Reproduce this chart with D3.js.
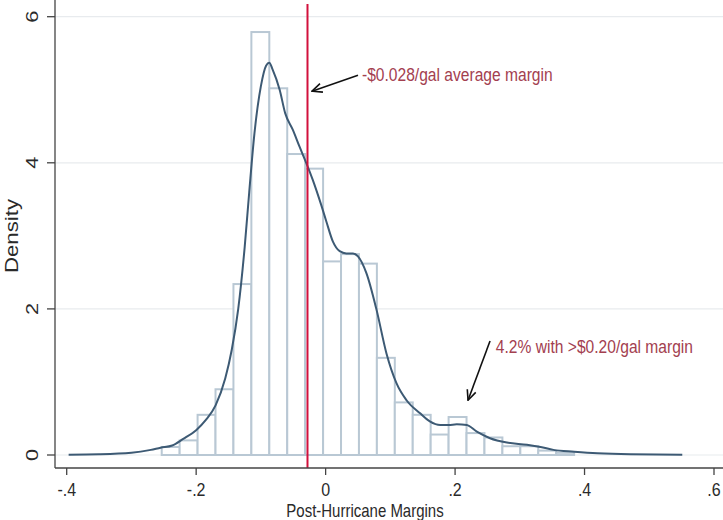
<!DOCTYPE html>
<html>
<head>
<meta charset="utf-8">
<script src="https://cdn.jsdelivr.net/npm/d3@7"></script>
<style>
  html, body { margin: 0; padding: 0; background: #fff; }
  svg { display: block; font-family: Arial, "Liberation Sans", sans-serif; }
</style>
</head>
<body>
<svg id="chart" width="723" height="520"></svg>
<script>
// ---- data ----
const binStart = -0.2532;
const binWidth = 0.0277;
const binHeights = [0.11, 0.20, 0.55, 0.90, 2.34, 5.79, 5.02, 4.12, 3.92, 2.65, 2.75, 2.62,
                    1.33, 0.72, 0.55, 0.28, 0.52, 0.30, 0.24, 0.12, 0.12, 0.06, 0.03];
const kdeX = [-0.397, -0.35, -0.30, -0.27, -0.255, -0.237, -0.22, -0.20, -0.185, -0.17, -0.155,
              -0.145, -0.135, -0.125, -0.118, -0.11, -0.10, -0.092, -0.087, -0.082, -0.071,
              -0.0625, -0.0506, -0.0403, -0.03, -0.02, -0.0067, 0.001, 0.0113, 0.0217, 0.032,
              0.0423, 0.05, 0.063, 0.0786, 0.094, 0.1096, 0.125, 0.146, 0.161, 0.177, 0.19,
              0.2026, 0.218, 0.2336, 0.254, 0.28, 0.311, 0.332, 0.352, 0.384, 0.42, 0.471, 0.551];
const kdeY = [0.005, 0.01, 0.03, 0.07, 0.10, 0.13, 0.22, 0.34, 0.48, 0.68, 1.05,
              1.44, 2.0, 2.85, 3.6, 4.4, 5.05, 5.33, 5.37, 5.28, 5.0,
              4.68, 4.45, 4.22, 4.0, 3.77, 3.42, 3.2, 2.92, 2.79, 2.76,
              2.76, 2.72, 2.49, 1.99, 1.39, 0.98, 0.75, 0.57, 0.46, 0.41, 0.41,
              0.42, 0.41, 0.32, 0.23, 0.17, 0.14, 0.11, 0.07, 0.045, 0.023, 0.01, 0.005];
const meanMargin = -0.028;
const xTicks = [-0.4, -0.2, 0, 0.2, 0.4, 0.6];
const xTickLabels = ["-.4", "-.2", "0", ".2", ".4", ".6"];
const yTicks = [0, 2, 4, 6];
const yTickLabels = ["0", "2", "4", "6"];
const annotations = [
  {text: "-$0.028/gal average margin", tx: 0.0562, ty: 5.20, ax0: 0.050, ay0: 5.20, ax1: -0.021, ay1: 4.98},
  {text: "4.2% with >$0.20/gal margin", tx: 0.263, ty: 1.478, ax0: 0.254, ay0: 1.56, ax1: 0.220, ay1: 0.75}
];
const xTitle = "Post-Hurricane Margins";
const yTitle = "Density";

// ---- layout ----
const svg = d3.select("#chart");
const axisX = 55, axisY = 468, rightEdge = 723, topEdge = 0;
const stretch = 1.2; // text in the reference is taller than it is wide
const x = d3.scaleLinear().domain([-0.4, 0.6]).range([66.7, 714]);
const y = d3.scaleLinear().domain([0, 6]).range([455, 16.7]);
const ink = "#2a2a2a";

// gridlines
svg.append("g").selectAll("line").data(yTicks).join("line")
  .attr("x1", axisX).attr("x2", rightEdge)
  .attr("y1", d => y(d)).attr("y2", d => y(d))
  .attr("stroke", "#e8ebee").attr("stroke-width", 1.2);

// histogram bars
const bins = binHeights.map((h, i) => ({x0: binStart + i * binWidth, x1: binStart + (i + 1) * binWidth, h}));
svg.append("g").selectAll("rect").data(bins).join("rect")
  .attr("x", d => x(d.x0)).attr("width", d => x(d.x1) - x(d.x0))
  .attr("y", d => y(d.h)).attr("height", d => y(0) - y(d.h))
  .attr("fill", "#fff").attr("stroke", "#b9c8d4").attr("stroke-width", 2);

// kernel density
const kde = kdeX.map((v, i) => [v, kdeY[i]]);
svg.append("path").datum(kde)
  .attr("d", d3.line().x(d => x(d[0])).y(d => y(d[1])).curve(d3.curveMonotoneX))
  .attr("fill", "none").attr("stroke", "#3d5a74").attr("stroke-width", 2);

// mean line
svg.append("line")
  .attr("x1", x(meanMargin)).attr("x2", x(meanMargin))
  .attr("y1", 4).attr("y2", axisY)
  .attr("stroke", "#d2103c").attr("stroke-width", 2);

// axes
const yAxis = svg.append("g").attr("transform", `translate(${axisX},0)`);
yAxis.append("line").attr("x1", 0).attr("x2", 0).attr("y1", topEdge).attr("y2", axisY)
  .attr("stroke", "#444").attr("stroke-width", 1.3);
yAxis.selectAll("line.tick").data(yTicks).join("line").attr("class", "tick")
  .attr("x1", -8).attr("x2", 0).attr("y1", d => y(d)).attr("y2", d => y(d))
  .attr("stroke", "#444").attr("stroke-width", 1.3);
yAxis.selectAll("text").data(yTicks).join("text")
  .attr("transform", d => `translate(-17,${y(d)}) rotate(-90) scale(${stretch * 1.1},1)`)
  .attr("text-anchor", "middle")
  .attr("font-size", 16.5).attr("fill", ink)
  .text((d, i) => yTickLabels[i]);

const xAxis = svg.append("g").attr("transform", `translate(0,${axisY})`);
xAxis.append("line").attr("x1", axisX).attr("x2", rightEdge).attr("y1", 0).attr("y2", 0)
  .attr("stroke", "#444").attr("stroke-width", 1.3);
xAxis.selectAll("line.tick").data(xTicks).join("line").attr("class", "tick")
  .attr("x1", d => x(d)).attr("x2", d => x(d)).attr("y1", 0).attr("y2", 7)
  .attr("stroke", "#444").attr("stroke-width", 1.3);
xAxis.selectAll("text").data(xTicks).join("text")
  .attr("transform", d => `translate(${x(d)},27.5) scale(1,${stretch})`)
  .attr("text-anchor", "middle").attr("font-size", 16).attr("fill", ink)
  .text((d, i) => xTickLabels[i]);

// titles
svg.append("text").attr("transform", `translate(365,516.5) scale(1,${stretch})`)
  .attr("text-anchor", "middle")
  .attr("font-size", 15).attr("fill", ink).text(xTitle);
svg.append("text").attr("transform", `translate(18,${(topEdge + axisY) / 2 + 2}) rotate(-90) scale(${stretch},1)`)
  .attr("text-anchor", "middle").attr("font-size", 18.5).attr("fill", ink).text(yTitle);

// annotations
const defs = svg.append("defs");
defs.append("marker").attr("id", "arrow").attr("viewBox", "0 0 12 12")
  .attr("refX", 11).attr("refY", 6).attr("markerWidth", 12).attr("markerHeight", 12)
  .attr("markerUnits", "userSpaceOnUse").attr("orient", "auto")
  .append("path").attr("d", "M1,1.5 L11,6 L1,10.5").attr("fill", "none")
  .attr("stroke", "#111").attr("stroke-width", 1.6);
const ann = svg.append("g");
ann.selectAll("line").data(annotations).join("line")
  .attr("x1", d => x(d.ax0)).attr("y1", d => y(d.ay0))
  .attr("x2", d => x(d.ax1)).attr("y2", d => y(d.ay1))
  .attr("stroke", "#111").attr("stroke-width", 1.6).attr("marker-end", "url(#arrow)");
ann.selectAll("text").data(annotations).join("text")
  .attr("transform", d => `translate(${x(d.tx)},${y(d.ty) + 5.5}) scale(1,${stretch})`)
  .attr("font-size", 15.6).attr("fill", "#a3404f").text(d => d.text);
</script>
</body>
</html>
